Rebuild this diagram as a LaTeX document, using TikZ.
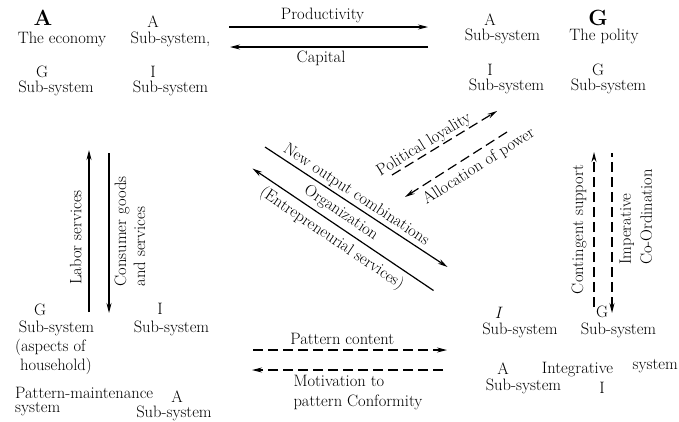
\documentclass[tikz,border=0pt]{standalone}
\usetikzlibrary{arrows.meta}
\begin{document}
\begin{tikzpicture}[x=1pt,y=-1pt,
  lbl/.style={inner sep=0pt, font=\fontsize{16.5}{19}\selectfont},
  big/.style={inner sep=0pt, font=\fontsize{22}{24}\selectfont\bfseries},
  flow/.style={line width=1.2pt, -{Stealth[length=10pt,width=5pt]}},
  rflow/.style={line width=1.2pt, {Stealth[length=10pt,width=5pt]}-},
  dflow/.style={flow, dash pattern=on 10pt off 5pt},
  rdflow/.style={rflow, dash pattern=on 10pt off 5pt}
]
\useasboundingbox (0,0) rectangle (679,421);

% top-left: the economy
\node[big] (Aeco) at (43,18) {A};
\node[lbl] (economy) at (62,39) {The economy};
\node[lbl] (Aa) at (153,22) {A};
\node[lbl] (Aasub) at (170.5,39) {Sub-system,};
\node[lbl] (Ag) at (42,72) {G};
\node[lbl] (Agsub) at (56,88) {Sub-system};
\node[lbl] (Ai) at (153,72) {I};
\node[lbl] (Aisub) at (170.5,88) {Sub-system};

% top-right: the polity
\node[lbl] (Ga) at (490,20) {A};
\node[lbl] (Gasub) at (502.5,36) {Sub-system};
\node[big] (Gpol) at (598,18) {G};
\node[lbl] (polity) at (604,36) {The polity};
\node[lbl] (Gi) at (490,70) {I};
\node[lbl] (Gisub) at (506.5,86) {Sub-system};
\node[lbl] (Gg) at (598,70) {G};
\node[lbl] (Ggsub) at (608.5,86) {Sub-system};

% bottom-left: pattern-maintenance
\node[lbl] (Lg) at (40,310) {G};
\node[lbl] (Lgsub) at (56.5,328) {Sub-system};
\node[lbl,anchor=west] (asp) at (15,347) {(aspects of};
\node[lbl,anchor=west] (hh) at (20,366) {household)};
\node[lbl] (Li) at (160,309) {I};
\node[lbl] (Lisub) at (171.5,328) {Sub-system};
\node[lbl,anchor=west] (pm) at (15,393) {Pattern-maintenance};
\node[lbl,anchor=west] (pmsys) at (15,409) {system};
\node[lbl] (La) at (177,397) {A};
\node[lbl] (Lasub) at (174,413) {Sub-system};

% bottom-right: integrative
\node[lbl,font=\fontsize{16.5}{19}\selectfont\itshape] (Ri) at (498,313) {I};
\node[lbl] (Risub) at (520,330) {Sub-system};
\node[lbl] (Rg) at (602,312) {G};
\node[lbl] (Rgsub) at (618.5,330) {Sub-system};
\node[lbl] (Ra) at (503,369) {A};
\node[lbl] (Rasub) at (523.5,386) {Sub-system};
\node[lbl] (integ) at (577.5,370) {Integrative};
\node[lbl,anchor=east] (rsys) at (678,366) {system};
\node[lbl] (Ri2) at (602,388) {I};

% arrow end points
\coordinate (p1) at (229,27);   \coordinate (p2) at (428,27);
\coordinate (c1) at (428,47);   \coordinate (c2) at (230,47);
\coordinate (n1) at (265,147);  \coordinate (n2) at (447.5,267);
\coordinate (o1) at (433.5,290.5); \coordinate (o2) at (252.5,168.5);
\coordinate (l1) at (392,175);  \coordinate (l2) at (497,111);
\coordinate (a1) at (507,132);  \coordinate (a2) at (405,197);
\coordinate (ls1) at (89,312);  \coordinate (ls2) at (89,150);
\coordinate (cs1) at (109,153); \coordinate (cs2) at (109,313);
\coordinate (cn1) at (594,307); \coordinate (cn2) at (594,152);
\coordinate (im1) at (612,153); \coordinate (im2) at (612,313);
\coordinate (pc1) at (253,350); \coordinate (pc2) at (447,350);
\coordinate (mc1) at (443,370); \coordinate (mc2) at (252,370);

% A <-> G
\draw[flow] (p1) -- node[lbl, above=4pt, pos=0.47] (prodl) {Productivity} (p2);
\draw[flow] (c1) -- node[lbl, below=3pt, pos=0.54] (capl) {Capital} (c2);

% A <-> I (diagonal)
\draw[flow] (n1) -- node[lbl, sloped, above=2pt, pos=0.47] (nocl) {New output combinations} (n2);
\draw[flow] (o1) -- node[lbl, sloped, above=4.5pt, pos=0.55] (orgl) {Organization}
                    node[lbl, sloped, below=5pt, pos=0.52] (entl) {(Entrepreneurial services)} (o2);

% G <-> L (diagonal, dashed)
\draw[dflow] (l1) -- node[lbl, sloped, above=1pt, pos=0.35] (loyl) {Political loyality} (l2);
\draw[dflow] (a1) -- node[lbl, sloped, below=6pt, pos=0.35] (allocl) {Allocation of power} (a2);

% A <-> L (left vertical)
\draw[flow] (ls1) -- node[lbl, sloped, above=7pt, pos=0.46] (labl) {Labor services} (ls2);
\draw[rflow] (cs2) -- node[lbl, sloped, below=5pt, pos=0.51, align=left] (consl) {Consumer goods\\and services} (cs1);

% G <-> I (right vertical, dashed)
\draw[dflow] (cn1) -- node[lbl, sloped, above=7pt, pos=0.5] (contl) {Contingent support} (cn2);
\draw[rdflow] (im2) -- node[lbl, sloped, below=7pt, pos=0.6, align=left, font=\fontsize{16.5}{21}\selectfont] (impl) {Imperative\\Co-Ordination} (im1);

% L <-> I (bottom, dashed)
\draw[dflow] (pc1) -- node[lbl, above=5pt, pos=0.46] (pcl) {Pattern content} (pc2);
\draw[dflow] (mc1) -- node[lbl, below=5pt, pos=0.445, align=left, font=\fontsize{16.5}{20}\selectfont] (motl) {Motivation to\\pattern Conformity} (mc2);

\end{tikzpicture}
\end{document}
